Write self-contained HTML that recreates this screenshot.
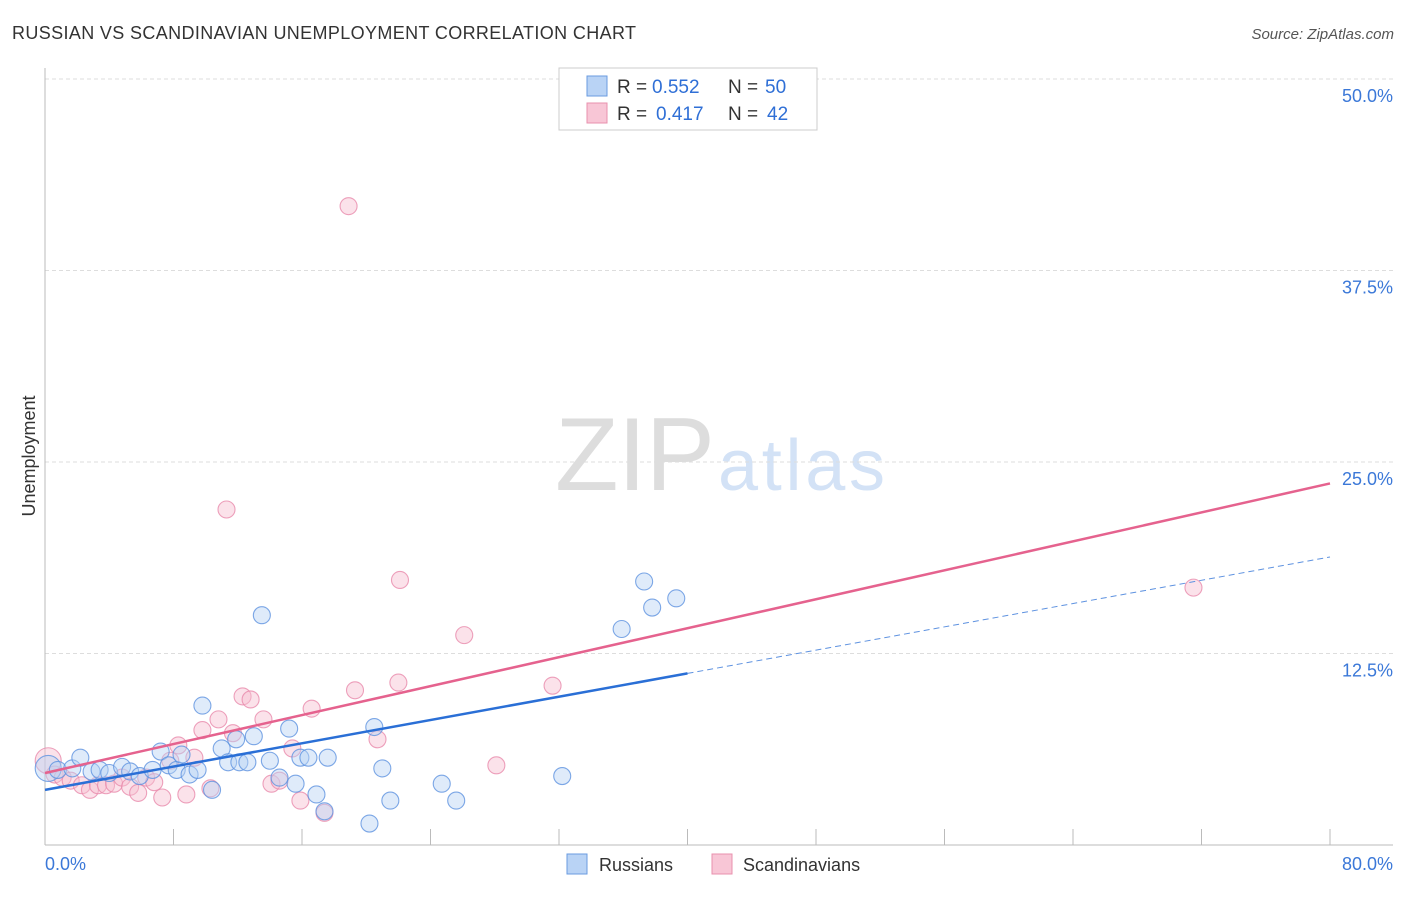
<!DOCTYPE html>
<html><head><meta charset="utf-8"><style>
body{margin:0;background:#fff;font-family:"Liberation Sans",sans-serif;}
svg text{font-family:"Liberation Sans",sans-serif;}
</style></head><body>
<svg id="chart" width="1406" height="892">
<text x="12" y="39" font-size="18" fill="#333" textLength="624">RUSSIAN VS SCANDINAVIAN UNEMPLOYMENT CORRELATION CHART</text>
<text x="1394" y="39" font-size="15" fill="#555" font-style="italic" text-anchor="end">Source: ZipAtlas.com</text>
<text x="35" y="456" font-size="18" fill="#333" text-anchor="middle" transform="rotate(-90 35 456)">Unemployment</text>
<text x="555" y="490" font-size="104" fill="#ddd" font-family="Liberation Serif" textLength="160">ZIP</text>
<text x="718" y="490" font-size="72" fill="#d3e2f6" textLength="167">atlas</text>
<g id="grid"></g><g id="pts"></g><g id="lines"></g>
<g>
<rect x="559" y="68" width="258" height="62" fill="#fff" stroke="#ccc"/>
<rect x="587" y="76" width="20" height="20" fill="#b9d3f5" stroke="#6a9be0"/>
<rect x="587" y="103" width="20" height="20" fill="#f8c6d6" stroke="#e890ae"/>
<text x="617" y="93" font-size="19" fill="#333">R =</text>
<text x="652" y="93" font-size="19" fill="#2f6fd6">0.552</text>
<text x="728" y="93" font-size="19" fill="#333">N =</text>
<text x="765" y="93" font-size="19" fill="#2f6fd6">50</text>
<text x="617" y="120" font-size="19" fill="#333">R =</text>
<text x="656" y="120" font-size="19" fill="#2f6fd6">0.417</text>
<text x="728" y="120" font-size="19" fill="#333">N =</text>
<text x="767" y="120" font-size="19" fill="#2f6fd6">42</text>
</g>
<g>
<rect x="567" y="854" width="20" height="20" fill="#b9d3f5" stroke="#6a9be0"/>
<text x="599" y="871" font-size="18" fill="#333">Russians</text>
<rect x="712" y="854" width="20" height="20" fill="#f8c6d6" stroke="#e890ae"/>
<text x="743" y="871" font-size="18" fill="#333">Scandinavians</text>
</g>
<text x="45" y="870" font-size="18" fill="#3b78d8">0.0%</text>
<text x="1393" y="870" font-size="18" fill="#3b78d8" text-anchor="end">80.0%</text>
</svg>
<script>
const yTicks=[12.5,25,37.5,50];
const yTickLabels=["12.5%","25.0%","37.5%","50.0%"];
const xTicks=[0,8,16,24,32,40,48,56,64,72,80];
const russiansX=[0.2,0.8,1.7,2.2,2.9,3.4,4.0,4.8,5.3,5.9,6.7,7.2,7.7,8.2,8.5,9.0,9.5,9.8,10.4,11.0,11.4,11.9,12.1,12.6,13.0,13.5,14.0,14.6,15.2,15.6,15.9,16.4,16.9,17.4,17.6,20.2,20.5,21.0,21.5,24.7,25.6,32.2,35.9,37.3,37.8,39.3];
const russiansY=[5.0,4.9,5.0,5.7,4.8,4.9,4.7,5.1,4.8,4.5,4.9,6.1,5.2,4.9,5.9,4.6,4.9,9.1,3.6,6.3,5.4,6.9,5.4,5.4,7.1,15.0,5.5,4.4,7.6,4.0,5.7,5.7,3.3,2.2,5.7,1.4,7.7,5.0,2.9,4.0,2.9,4.5,14.1,17.2,15.5,16.1];
const scandX=[0.2,0.6,1.1,1.6,2.3,2.8,3.3,3.8,4.3,4.8,5.3,5.8,6.3,6.8,7.3,7.8,8.3,8.8,9.3,9.8,10.3,10.8,11.3,11.7,12.3,12.8,13.6,14.1,14.6,15.4,15.9,16.6,17.4,18.9,19.3,20.7,22.0,22.1,26.1,28.1,31.6,71.5];
const scandY=[5.5,4.6,4.4,4.2,3.9,3.6,3.9,3.9,4.0,4.4,3.8,3.4,4.4,4.1,3.1,5.5,6.5,3.3,5.7,7.5,3.7,8.2,21.9,7.3,9.7,9.5,8.2,4.0,4.2,6.3,2.9,8.9,2.1,41.7,10.1,6.9,10.6,17.3,13.7,5.2,10.4,16.8];
const russiansTrend=[3.6,18.8]; // y at x=0, x=80
const scandTrend=[4.7,23.6];
const NS="http://www.w3.org/2000/svg";
const sx=v=>45+v/80*1285, sy=v=>845-v/50*766;
function mk(tag,attrs,parent){const e=document.createElementNS(NS,tag);for(const k in attrs)e.setAttribute(k,attrs[k]);parent.appendChild(e);return e;}
const grid=document.getElementById('grid');
yTicks.forEach((t,i)=>{
 const l=mk('line',{x1:45,x2:1393,y1:sy(t),y2:sy(t),stroke:'#ddd','stroke-dasharray':'4,3'},grid);
 
 
 const tx=mk('text',{x:1393,y:sy(t)+23,'font-size':18,fill:'#3b78d8','text-anchor':'end'},grid);
 tx.textContent=yTickLabels[i];
 
 
});
const ax=mk('line',{x1:45,x2:1393,y1:845,y2:845,stroke:'#bbb'},grid);


const ay=mk('line',{x1:45,x2:45,y1:68,y2:845,stroke:'#bbb'},grid);


xTicks.forEach(t=>{
 const l=mk('line',{x1:sx(t),x2:sx(t),y1:829,y2:845,stroke:'#bbb'},grid);
 
 
});
const pts=document.getElementById('pts');
function dots(xs,ys,fill,stroke,name){xs.forEach((x,i)=>{
 const c=mk('circle',{cx:sx(x),cy:sy(ys[i]),r:i===0?13:8.5,fill:fill,'fill-opacity':0.45,stroke:stroke,'stroke-opacity':0.8,'stroke-width':1.1},pts);
 
 
});}
dots(scandX,scandY,'#f7bfd1','#e88aab','scandinavian-point');
dots(russiansX,russiansY,'#b9d3f5','#5e92e0','russian-point');
const lines=document.getElementById('lines');
const ry=x=>russiansTrend[0]+(russiansTrend[1]-russiansTrend[0])*x/80;
const py=x=>scandTrend[0]+(scandTrend[1]-scandTrend[0])*x/80;
let l1=mk('line',{x1:sx(0),y1:sy(py(0)),x2:sx(80),y2:sy(py(80)),stroke:'#e5628e','stroke-width':2.5},lines);


let l2=mk('line',{x1:sx(0),y1:sy(ry(0)),x2:sx(40),y2:sy(ry(40)),stroke:'#2a6fd6','stroke-width':2.5},lines);


let l3=mk('line',{x1:sx(40),y1:sy(ry(40)),x2:sx(80),y2:sy(ry(80)),stroke:'#5e92e0','stroke-width':1,'stroke-dasharray':'6,4'},lines);


</script>
</body></html>
